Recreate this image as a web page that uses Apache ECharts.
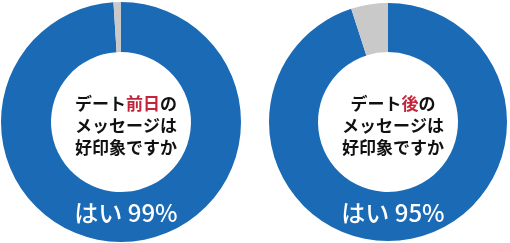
<!DOCTYPE html>
<html><head><meta charset="utf-8">
<script src="https://cdn.jsdelivr.net/npm/echarts@6/dist/echarts.min.js"></script>
<style>html,body{margin:0;padding:0;background:#fff}#c{width:510px;height:243px}</style>
</head><body><div id="c"></div>
<script>
const keyWords = ['前日', '後'];
const yesValues = [99, 95];
const noValues = [1, 5];
const categories = ['はい', 'いいえ'];
const questionHead = 'デート';
const questionTail = 'の';
const questionLines = ['メッセージは', '好印象ですか'];

const centers = [[121, 122], [388, 122]];
const radii = [[70, 120], [70, 119]];
const BLUE = '#1a6ab6', GRAY = '#c9c9c9', RED = '#c3243a';
const FONT = '"Noto Sans CJK JP", "Noto Sans", sans-serif';

const series = yesValues.map((v, i) => ({
  type: 'pie', center: centers[i], radius: radii[i], startAngle: 90, clockwise: true,
  silent: true, label: {show: false}, labelLine: {show: false},
  itemStyle: {borderWidth: 0},
  data: [
    {name: categories[0], value: v, itemStyle: {color: BLUE}},
    {name: categories[1], value: noValues[i], itemStyle: {color: GRAY}}
  ]
}));

const titles = [];
yesValues.forEach((v, i) => {
  titles.push({
    text: '{a|' + questionHead + '}{r|' + keyWords[i] + '}{a|' + questionTail + '}\n{a|' + questionLines.join('}\n{a|') + '}',
    left: centers[i][0], top: 88, textAlign: 'center',
    textStyle: {
      rich: {
        a: {fontFamily: FONT, fontSize: 17, color: '#111', lineHeight: 22, fontWeight: 'bold'},
        r: {fontFamily: FONT, fontSize: 17, color: RED, lineHeight: 22, fontWeight: 'bold'}
      }
    }
  });
  titles.push({
    text: categories[0] + ' ' + v + '%',
    left: centers[i][0], top: 196, textAlign: 'center',
    textStyle: {fontFamily: FONT, fontSize: 24, color: '#fff', fontWeight: 500}
  });
});

const chart = echarts.init(document.getElementById('c'), null, {renderer: 'canvas'});
chart.setOption({animation: false, backgroundColor: '#fff', title: titles, series: series});
</script></body></html>
